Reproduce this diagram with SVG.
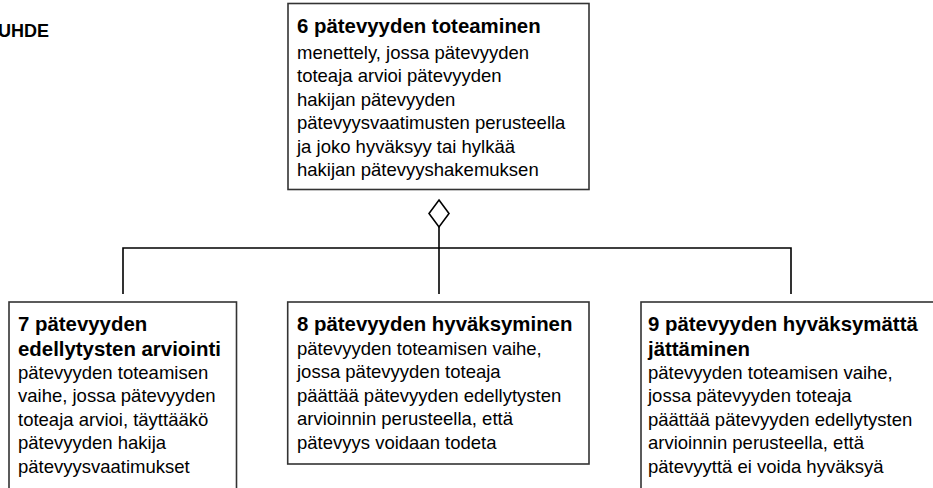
<svg xmlns="http://www.w3.org/2000/svg" width="933" height="488" viewBox="0 0 933 488">
<style>
.box{fill:#fff;stroke:#333;stroke-width:1.6}
.t{font-family:"Liberation Sans",Arial,sans-serif;font-size:20.4px;font-weight:bold;fill:#000}
.b{font-family:"Liberation Sans",Arial,sans-serif;font-size:18.5px;fill:#000}
.c{fill:none;stroke:#000;stroke-width:1.6}
</style>
<rect width="933" height="488" fill="#fff"/>
<text class="t" x="49" y="37" text-anchor="end" style="font-size:18px">UHDE</text>
<g id="connectors">
<polyline class="c" points="123,294 123,248 791,248 791,294"/>
<line class="c" x1="439" y1="227" x2="439" y2="294"/>
<polygon points="439,200 449,213.5 439,227 429,213.5" fill="#fff" stroke="#000" stroke-width="1.6"/>
</g>
<g id="n6">
<rect class="box" x="288" y="3.5" width="301" height="186"/>
<text class="t" x="297" y="33">6 pätevyyden toteaminen</text>
<text class="b" x="297" y="59">menettely, jossa pätevyyden</text>
<text class="b" x="297" y="82.4">toteaja arvioi pätevyyden</text>
<text class="b" x="297" y="105.8">hakijan pätevyyden</text>
<text class="b" x="297" y="129.2">pätevyysvaatimusten perusteella</text>
<text class="b" x="297" y="152.6">ja joko hyväksyy tai hylkää</text>
<text class="b" x="297" y="176">hakijan pätevyyshakemuksen</text>
</g>
<g id="n7">
<rect class="box" x="9" y="302" width="227.5" height="200"/>
<text class="t" x="18" y="330.5">7 pätevyyden</text>
<text class="t" x="18" y="355.5">edellytysten arviointi</text>
<text class="b" x="18" y="379">pätevyyden toteamisen</text>
<text class="b" x="18" y="402.4">vaihe, jossa pätevyyden</text>
<text class="b" x="18" y="425.8">toteaja arvioi, täyttääkö</text>
<text class="b" x="18" y="449.2">pätevyyden hakija</text>
<text class="b" x="18" y="472.6">pätevyysvaatimukset</text>
</g>
<g id="n8">
<rect class="box" x="287.7" y="302" width="301.3" height="162"/>
<text class="t" x="297" y="330.5">8 pätevyyden hyväksyminen</text>
<text class="b" x="297" y="355">pätevyyden toteamisen vaihe,</text>
<text class="b" x="297" y="378.4">jossa pätevyyden toteaja</text>
<text class="b" x="297" y="401.8">päättää pätevyyden edellytysten</text>
<text class="b" x="297" y="425.2">arvioinnin perusteella, että</text>
<text class="b" x="297" y="448.6">pätevyys voidaan todeta</text>
</g>
<g id="n9">
<rect class="box" x="641" y="302" width="320" height="200"/>
<text class="t" x="648" y="330.5">9 pätevyyden hyväksymättä</text>
<text class="t" x="648" y="355.5">jättäminen</text>
<text class="b" x="648" y="379">pätevyyden toteamisen vaihe,</text>
<text class="b" x="648" y="402.4">jossa pätevyyden toteaja</text>
<text class="b" x="648" y="425.8">päättää pätevyyden edellytysten</text>
<text class="b" x="648" y="449.2">arvioinnin perusteella, että</text>
<text class="b" x="648" y="472.6">pätevyyttä ei voida hyväksyä</text>
</g>
</svg>
